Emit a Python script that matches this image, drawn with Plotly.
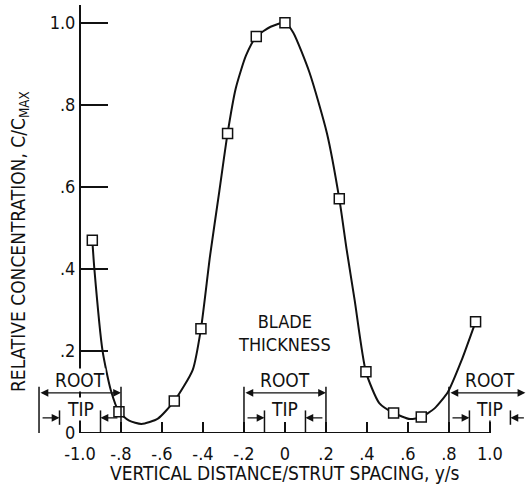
import plotly.graph_objects as go

# ---- data ----
# measured points (open squares)
meas_x = [-0.94, -0.81, -0.54, -0.41, -0.28, -0.14, 0.0, 0.265, 0.395, 0.53, 0.665, 0.93]
meas_y = [0.47, 0.052, 0.078, 0.254, 0.73, 0.966, 1.0, 0.571, 0.149, 0.049, 0.039, 0.271]

# faired curve
curve_x = [-0.94, -0.93, -0.89, -0.85, -0.81, -0.76, -0.70, -0.62, -0.54, -0.45, -0.41,
           -0.366, -0.32, -0.28, -0.24, -0.19, -0.14, -0.07, 0.0, 0.04, 0.12, 0.205,
           0.265, 0.30, 0.34, 0.395, 0.46, 0.53, 0.61, 0.665, 0.73, 0.795, 0.86, 0.93]
curve_y = [0.47, 0.40, 0.20, 0.105, 0.052, 0.030, 0.022, 0.035, 0.078, 0.154, 0.254,
           0.43, 0.59, 0.73, 0.84, 0.92, 0.966, 0.99, 1.0, 0.976, 0.878, 0.73,
           0.571, 0.45, 0.324, 0.149, 0.073, 0.049, 0.034, 0.039, 0.06, 0.10, 0.175, 0.271]

x_tick_vals = [-1.0, -0.8, -0.6, -0.4, -0.2, 0.0, 0.2, 0.4, 0.6, 0.8, 1.0]
x_tick_text = ["-1.0", "-.8", "-.6", "-.4", "-.2", "0", ".2", ".4", ".6", ".8", "1.0"]
y_tick_vals = [0.0, 0.2, 0.4, 0.6, 0.8, 1.0]
y_tick_text = ["0", ".2", ".4", ".6", ".8", "1.0"]

blade_centers = [-1.0, 0.0, 1.0]
root_thickness = 0.4
tip_thickness = 0.2

FONT = "Liberation Sans Narrow, DejaVu Sans Condensed, Arial Narrow, DejaVu Sans, sans-serif"
BLACK = "#111111"

# ---- figure geometry ----
W, H = 526, 489
ML, MR, MT, MB = 30, 0, 5, 56
XR = [-1.244, 1.176]
YR = [0.0, 1.043]
plot_w = W - ML - MR
plot_h = H - MT - MB
yaxis_pos = (-1.0 - XR[0]) / (XR[1] - XR[0])

fig = go.Figure()

fig.add_trace(go.Scatter(
    x=curve_x, y=curve_y, mode="lines",
    line=dict(color=BLACK, width=2, shape="spline", smoothing=0.6),
    hoverinfo="skip", showlegend=False))

fig.add_trace(go.Scatter(
    x=meas_x, y=meas_y, mode="markers",
    marker=dict(symbol="square", size=10, color="white",
                line=dict(color=BLACK, width=1.5)),
    showlegend=False))

shapes = []
annotations = []

# x axis line from -1 to 1 and end stub at 1.0
shapes.append(dict(type="line", xref="x", yref="y", x0=-1.0, x1=1.0, y0=0, y1=0,
                   line=dict(color=BLACK, width=2)))
shapes.append(dict(type="line", xref="x", yref="y", x0=1.0, x1=1.0, y0=0, y1=0.055,
                   line=dict(color=BLACK, width=1.5)))

root_top, root_arrow_y = 0.113, 0.098
tip_top, tip_arrow_y = 0.055, 0.037
tip_arrow_len = 0.09
xmin_vis, xmax_vis = XR[0] + 0.01, XR[1] - 0.003

for c in blade_centers:
    r0, r1 = c - root_thickness / 2, c + root_thickness / 2
    t0, t1 = c - tip_thickness / 2, c + tip_thickness / 2
    # ROOT extension lines
    for xv in (r0, r1):
        if XR[0] < xv < XR[1]:
            shapes.append(dict(type="line", xref="x", yref="y", x0=xv, x1=xv,
                               y0=0, y1=root_top, line=dict(color=BLACK, width=1.5)))
    # TIP extension lines
    for xv in (t0, t1):
        if XR[0] < xv < XR[1]:
            inside = -1.0 <= xv <= 1.0
            shapes.append(dict(type="line", xref="x", yref="y", x0=xv, x1=xv,
                               y0=0 if inside else 0.02, y1=tip_top,
                               line=dict(color=BLACK, width=1.5)))
    # ROOT dimension arrow (double headed)
    a0 = max(r0, xmin_vis)
    a1 = min(r1, xmax_vis)
    annotations.append(dict(xref="x", yref="y", axref="x", ayref="y",
                            x=a1, y=root_arrow_y, ax=a0, ay=root_arrow_y,
                            text="", showarrow=True, arrowside="end+start",
                            arrowhead=2, arrowsize=1.3, arrowwidth=1.2,
                            arrowcolor=BLACK, standoff=0, startstandoff=0))
    # TIP arrows outside, pointing inward
    annotations.append(dict(xref="x", yref="y", axref="x", ayref="y",
                            x=t0, y=tip_arrow_y, ax=t0 - tip_arrow_len, ay=tip_arrow_y,
                            text="", showarrow=True, arrowhead=2, arrowsize=1.3,
                            arrowwidth=1.2, arrowcolor=BLACK, standoff=0))
    t1_tail = min(t1 + tip_arrow_len, xmax_vis)
    annotations.append(dict(xref="x", yref="y", axref="x", ayref="y",
                            x=t1, y=tip_arrow_y, ax=t1_tail, ay=tip_arrow_y,
                            text="", showarrow=True, arrowhead=2, arrowsize=1.3,
                            arrowwidth=1.2, arrowcolor=BLACK, standoff=0))
    # labels
    annotations.append(dict(xref="x", yref="y", x=c, y=0.129, text="ROOT",
                            showarrow=False, bgcolor="white", borderpad=0,
                            font=dict(family=FONT, size=19, color=BLACK)))
    annotations.append(dict(xref="x", yref="y", x=c, y=0.058, text="TIP",
                            showarrow=False, bgcolor="white", borderpad=0,
                            font=dict(family=FONT, size=19, color=BLACK)))

annotations.append(dict(xref="x", yref="y", x=0.0, y=0.243,
                        text="BLADE<br>THICKNESS", showarrow=False,
                        font=dict(family=FONT, size=18, color=BLACK)))

# axis titles
annotations.append(dict(xref="x", yref="paper", x=0.0, y=-(473 - (H - MB)) / plot_h,
                        yanchor="middle", text="VERTICAL DISTANCE/STRUT SPACING, y/s",
                        showarrow=False, font=dict(family=FONT, size=19, color=BLACK)))
annotations.append(dict(xref="paper", yref="paper", x=(19 - ML) / plot_w,
                        y=((H - MB) - 242) / plot_h, textangle=-90,
                        xanchor="center", yanchor="middle",
                        text="RELATIVE CONCENTRATION, C/C<sub>MAX</sub>",
                        showarrow=False, font=dict(family=FONT, size=19, color=BLACK)))

fig.update_layout(
    width=W, height=H,
    margin=dict(l=ML, r=MR, t=MT, b=MB, pad=0),
    paper_bgcolor="white", plot_bgcolor="white",
    shapes=shapes, annotations=annotations,
    xaxis=dict(range=XR, showgrid=False, zeroline=False, showline=False,
               ticks="inside", ticklen=11, tickwidth=1.5, tickcolor=BLACK,
               tickvals=x_tick_vals, ticktext=x_tick_text, ticklabelstandoff=8,
               tickfont=dict(family=FONT, size=18, color=BLACK)),
    yaxis=dict(range=YR, anchor="free", position=yaxis_pos, side="left",
               showgrid=False, zeroline=False, showline=True, linewidth=2,
               linecolor=BLACK, ticks="inside", ticklen=27, tickwidth=2,
               tickcolor=BLACK, tickvals=y_tick_vals, ticktext=y_tick_text,
               tickfont=dict(family=FONT, size=18, color=BLACK)),
)

fig.write_html("out.html")
